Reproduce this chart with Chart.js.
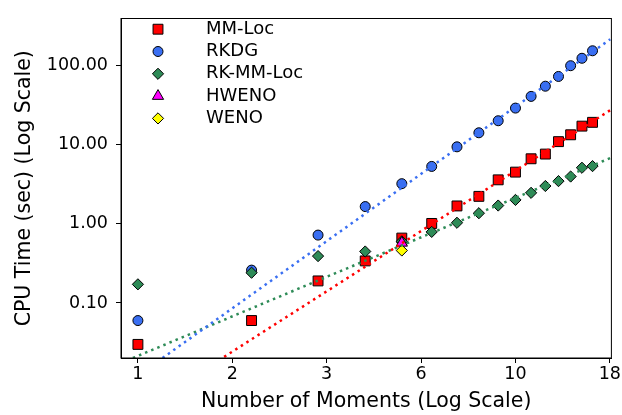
<!DOCTYPE html>
<html>
<head>
<meta charset="utf-8">
<script src="https://cdn.jsdelivr.net/npm/chart.js@4/dist/chart.umd.min.js"></script>
<style>
  body { margin: 0; background: #fff; }
  #wrap { width: 622px; height: 415px; }
</style>
</head>
<body>
<div id="wrap"><canvas id="cpuChart" width="622" height="415"></canvas></div>
<script>
// number of moments (x) and CPU time in seconds (y)
const moments = [1, 2, 3, 4, 5, 6, 7, 8, 9, 10, 11, 12, 13, 14, 15, 16];
const mmLoc   = [0.030, 0.060, 0.19, 0.34, 0.66, 1.01, 1.68, 2.22, 3.59, 4.49, 6.62, 7.59, 10.9, 13.3, 17.1, 19.1];
const rkdg    = [0.060, 0.26, 0.72, 1.65, 3.21, 5.30, 9.37, 14.1, 20.0, 28.9, 40.6, 54.6, 72.5, 99.1, 123, 153];
const rkMmLoc = [0.172, 0.241, 0.391, 0.447, 0.600, 0.790, 1.03, 1.36, 1.70, 2.00, 2.46, 3.00, 3.46, 3.95, 5.10, 5.35];
const wenoMoments = [5];
const hweno = [0.574];
const weno  = [0.46];

// dotted power-law fit lines (two end points each)
const mmLocFitX   = [1.692, 17.87];
const mmLocFitY   = [0.0209, 27.4];
const rkdgFitX    = [1.162, 17.82];
const rkdgFitY    = [0.0202, 213.6];
const rkMmLocFitX = [0.970, 17.87];
const rkMmLocFitY = [0.0202, 6.78];

// axis ticks
const xTicks = [1, 1.778, 3.162, 5.623, 10, 17.78];
const yTicks = [0.1, 1, 10, 100];

const FONT = '"DejaVu Sans", sans-serif';
const BLUE = '#3a6ff2';
const RED = '#ff0000';
const GREEN = '#2e8b57';

function pts(xs, ys) {
    return xs.map((x, i) => ({ x: x, y: ys[i] }));
}

function scatter(label, xs, ys, color, style, radius, order) {
    return {
        label: label,
        data: pts(xs, ys),
        showLine: false,
        pointStyle: style,
        pointRadius: radius,
        pointHoverRadius: radius,
        pointBackgroundColor: color,
        pointBorderColor: '#000',
        pointBorderWidth: 1,
        order: order,
        inLegend: true
    };
}

function fitLine(xs, ys, color) {
    return {
        label: '',
        data: pts(xs, ys),
        showLine: true,
        borderColor: color,
        borderWidth: 2.5,
        borderDash: [2.5, 4.1],
        pointRadius: 0,
        fill: false,
        order: 1
    };
}

// frame around the plot and a matplotlib-like legend in the upper left
const framePlugin = {
    id: 'frameAndLegend',
    afterDatasetsDraw(chart) {
        const ctx = chart.ctx;
        const a = chart.chartArea;
        ctx.save();
        ctx.strokeStyle = '#000';
        ctx.lineWidth = 1;
        ctx.strokeRect(a.left, a.top, a.right - a.left, a.bottom - a.top);

        let row = 0;
        chart.data.datasets.forEach(ds => {
            if (!ds.inLegend) return;
            const y = a.top + 10.7 + row * 22.3;
            const x = a.left + 37;
            ctx.fillStyle = ds.pointBackgroundColor;
            ctx.strokeStyle = '#000';
            ctx.lineWidth = 1;
            Chart.helpers.drawPoint(ctx, {
                pointStyle: ds.pointStyle,
                radius: ds.pointRadius,
                rotation: 0,
                borderWidth: 1
            }, x, y);
            ctx.fillStyle = '#000';
            ctx.font = '18px ' + FONT;
            ctx.textBaseline = 'middle';
            ctx.textAlign = 'left';
            ctx.fillText(ds.label, a.left + 85, y);
            row++;
        });
        ctx.restore();
    }
};

const config = {
    type: 'scatter',
    data: {
        datasets: [
            scatter('MM-Loc', moments, mmLoc, RED, 'rect', 7, 8),
            scatter('RKDG', moments, rkdg, BLUE, 'circle', 5, 7),
            scatter('RK-MM-Loc', moments, rkMmLoc, GREEN, 'rectRot', 5.6, 6),
            scatter('HWENO', wenoMoments, hweno, '#ff00ff', 'triangle', 6.5, 5),
            scatter('WENO', wenoMoments, weno, '#ffff00', 'rectRot', 5.6, 4),
            fitLine(mmLocFitX, mmLocFitY, RED),
            fitLine(rkdgFitX, rkdgFitY, BLUE),
            fitLine(rkMmLocFitX, rkMmLocFitY, GREEN)
        ]
    },
    options: {
        responsive: false,
        animation: false,
        layout: { padding: { top: 11, right: 10, bottom: 0, left: 0 } },
        plugins: {
            legend: { display: false },
            tooltip: { enabled: false }
        },
        scales: {
            x: {
                type: 'logarithmic',
                min: 0.902,
                max: 17.95,
                afterBuildTicks: s => { s.ticks = xTicks.map(v => ({ value: v })); },
                afterFit: s => { s.height = 57; },
                grid: { drawOnChartArea: false, tickLength: 5, color: '#000' },
                border: { display: true, color: '#000' },
                ticks: {
                    autoSkip: false,
                    maxRotation: 0,
                    padding: 1,
                    color: '#000',
                    font: { family: FONT, size: 17.5 },
                    callback: v => String(Math.round(v))
                },
                title: {
                    display: true,
                    text: 'Number of Moments (Log Scale)',
                    color: '#000',
                    font: { family: FONT, size: 20.5 },
                    padding: { top: 0, bottom: 1 }
                }
            },
            y: {
                type: 'logarithmic',
                min: 0.0202,
                max: 391,
                afterBuildTicks: s => { s.ticks = yTicks.map(v => ({ value: v })); },
                afterFit: s => { s.width = 121; },
                grid: { drawOnChartArea: false, tickLength: 5, color: '#000' },
                border: { display: true, color: '#000' },
                ticks: {
                    autoSkip: false,
                    padding: 8,
                    color: '#000',
                    font: { family: FONT, size: 17.5 },
                    callback: v => Number(v).toFixed(2)
                },
                title: {
                    display: true,
                    text: 'CPU Time (sec) (Log Scale)',
                    color: '#000',
                    font: { family: FONT, size: 20.5 },
                    padding: { top: 12.7, bottom: 0 }
                }
            }
        }
    },
    plugins: [framePlugin]
};

new Chart(document.getElementById('cpuChart'), config);
</script>
</body>
</html>
